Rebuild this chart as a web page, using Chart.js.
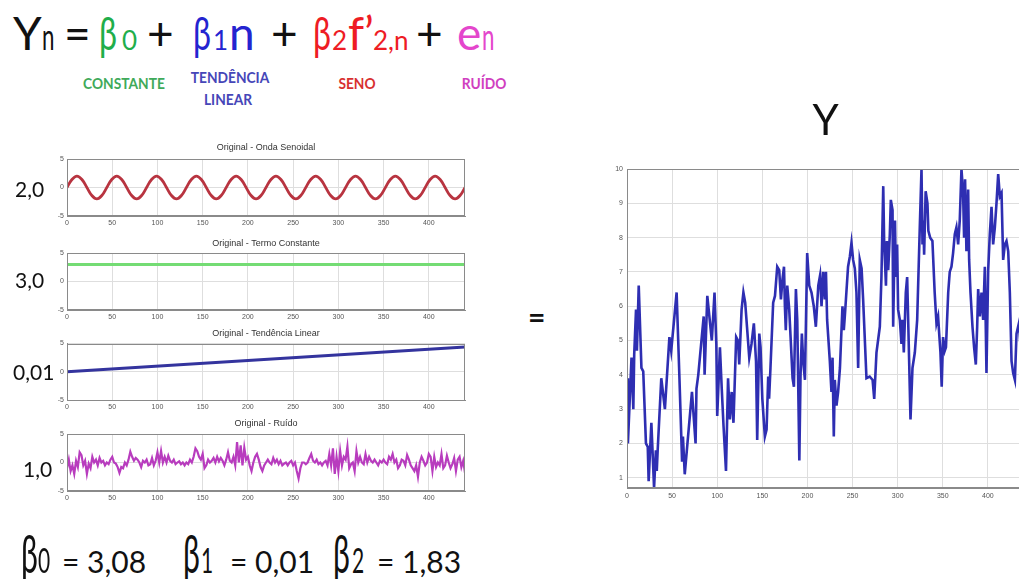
<!DOCTYPE html>
<html><head><meta charset="utf-8">
<script src="https://cdn.jsdelivr.net/npm/chart.js@4"></script>
<style>
html,body{margin:0;padding:0;width:1019px;height:579px;overflow:hidden;background:#fff;font-family:Lato,sans-serif;position:relative}
.t{position:absolute;white-space:nowrap;line-height:1}
canvas{position:absolute}
</style></head><body>
<canvas id="c1"></canvas><canvas id="c2"></canvas><canvas id="c3"></canvas><canvas id="c4"></canvas><canvas id="cy"></canvas>
<script>
// ---------- data ----------
const xTicks = [0,50,100,150,200,250,300,350,400];
const smallYTicks = [-5,0,5];
const bigYTicks = [1,2,3,4,5,6,7,8,9,10];

const sineVal = [0,1.41,2,1.41,0,-1.41,-2,-1.41, 0,1.41,2,1.41,0,-1.41,-2,-1.41,
 0,1.41,2,1.41,0,-1.41,-2,-1.41, 0,1.41,2,1.41,0,-1.41,-2,-1.41, 0,1.41,2,1.41,0,-1.41,-2,-1.41,
 0,1.41,2,1.41,0,-1.41,-2,-1.41, 0,1.41,2,1.41,0,-1.41,-2,-1.41, 0,1.41,2,1.41,0,-1.41,-2,-1.41,
 0,1.41,2,1.41,0,-1.41,-2,-1.41, 0,1.41,2,1.41,0,-1.41,-2,-1.41, 0];
const sineStep = 5.5;

const constN = [0,440];
const constVal = [3,3];

const trendN = [0,440];
const trendVal = [0,4.4];

const noiseVal = [
-1.0,0.5,-1.5,-0.5,-2.0,0.3,-0.8,1.8,1.3,-0.5,
0.3,-2.0,-0.2,-1.0,1.0,0.0,0.5,-0.5,0.8,0.0,
0.3,-0.5,0.0,-0.3,0.5,1.0,0.0,-0.2,-0.8,-1.8,
-0.8,-1.0,0.0,-0.5,0.5,1.9,1.0,0.3,0.8,0.5,
0.0,-0.8,0.3,0.0,0.5,-0.5,-0.3,0.8,-0.5,0.3,
1.8,0.0,2.0,0.0,1.0,0.0,1.2,0.3,0.0,0.5,
-0.3,0.0,0.2,-0.3,0.0,-0.5,0.0,-0.3,0.5,0.0,
1.0,2.5,2.0,1.0,0.5,1.5,-1.0,-0.5,0.5,0.0,
0.3,0.8,0.0,1.0,0.2,0.8,0.3,-0.5,0.5,1.8,
0.3,0.0,1.0,-0.5,3.6,0.0,3.0,-0.5,2.6,0.5,
1.0,-0.5,-1.5,0.0,1.0,1.5,0.5,-0.8,-1.5,-0.5,
0.0,0.5,0.0,-0.3,0.8,0.0,0.5,-0.3,0.3,-0.5,
-0.2,0.0,-0.5,0.0,0.3,-0.5,0.0,-1.5,-2.8,-1.0,
0.0,0.0,-0.3,0.0,0.8,1.5,0.3,0.0,0.5,-0.3,
0.0,-0.5,0.0,0.3,-0.5,1.5,-0.5,2.5,-2.0,1.0,
-1.5,2.0,-0.5,1.0,0.5,2.8,-1.0,-0.3,0.0,-1.5,
2.0,0.0,1.0,0.0,-0.3,1.5,0.0,1.0,0.3,0.0,
0.5,0.0,-0.5,0.3,0.0,0.5,0.0,-0.3,1.0,0.5,
1.5,0.0,0.5,-1.0,-0.5,0.5,0.3,-0.5,1.3,0.5,
-0.5,-1.0,-1.5,-0.5,-2.5,0.0,1.0,0.3,-0.5,0.0,
1.5,1.0,-1.5,1.0,-0.8,0.0,-0.5,1.5,-1.0,-0.5,
1.2,0.0,-1.0,-0.3,0.8,-1.5,0.5,1.0,-0.8,0.3,
-1.8];
const noiseStep = 2;

const yN = [
0,1,5,7,8,10,11,13,16,18,
21,23,24,27,30,32,33,34,38,42,
47,49,55,58,61,62,64,67,72,76,
77,79,85,86,89,94,97,99,100,103,
105,107,109.7,112,114,116,118,121,123,124.4,
127,129,131,133,135.5,138,140.6,143,144.3,146.6,
148,150,152.8,154.7,156.5,157.5,159,162,164,166.5,
168.7,170.6,172.4,174,175,176,177.6,179.8,181.3,183.5,
185,187.2,188.7,191,192.3,193.8,195.3,197.2,199.7,202,
204.5,207,209.3,212,214,215.6,217.4,219.3,220.5,221.8,
224.8,226.6,227.8,229.2,230.3,232.2,234,236,238.8,240.3,
241.4,245,247,248.8,250.6,252.5,254.3,256.2,258,260,
261.7,265.4,269,272.2,274,276.5,280.2,282,284,285,
287,288,289.5,291.3,292.4,294.3,295,297,298,299.4,
300.5,302.4,304.2,305.3,306.8,309,310.5,312.7,314.2,316.4,
319,321.6,324.5,326.4,327.5,328.5,329.3,331,333,334,
336,338.5,341,343,344.8,346,347.4,348.8,350.3,352.2,
353.5,356,357.7,359.6,361.4,363.3,365.1,367,368.8,370.7,
372.5,373.6,374.7,376.2,378.1,379.2,380.7,382.9,384.7,386.6,
388.1,389.2,391,392.9,394.7,396.6,398.4,400.3,402.1,404,
405.8,407.7,409.5,411.4,413.2,415.1,416.9,418.8,420.6,422.5,
424.3,426.2,428,429.9,431.7,434.3,436,438,440];
const yVal = [
3.9,2.0,4.5,3.0,4.6,5.9,4.7,6.6,4.2,4.1,
2.0,1.9,0.9,2.6,0.7,1.8,1.2,1.8,3.9,3.0,
5.1,4.7,6.4,4.0,1.5,2.2,1.1,2.0,3.5,2.0,
3.6,4.0,5.7,4.0,6.3,5.0,6.4,4.9,2.8,4.8,
3.6,2.5,1.2,3.9,2.7,3.5,2.6,5.1,5.0,4.3,
5.9,6.4,6.1,5.4,4.5,4.9,5.5,4.4,2.1,5.2,
4.8,3.3,2.2,2.4,3.95,3.3,4.2,6.1,6.3,7.15,
7.05,6.2,6.8,7.15,6.0,5.3,6.6,5.9,5.1,3.9,
3.65,6.5,5.6,1.5,3.95,5.2,4.4,3.85,7.55,6.6,
6.4,6.0,5.4,6.6,6.9,6.0,7.0,6.2,7.0,5.6,
4.4,3.5,4.5,2.2,3.85,3.1,3.5,4.2,6.0,5.3,
5.7,7.15,7.45,7.85,7.35,7.1,6.4,4.2,7.35,7.1,
6.2,3.9,3.95,3.85,3.3,4.65,5.4,6.85,9.5,7.9,
6.6,7.9,7.05,8.1,9.1,8.8,5.4,8.5,6.85,7.8,
5.9,5.6,4.9,5.6,4.65,6.4,6.85,4.4,2.7,4.2,
4.65,5.6,8.3,10.0,7.8,8.5,7.5,9.35,9.0,8.2,
8.0,7.9,6.4,5.5,5.7,5.2,4.65,3.65,5.1,4.7,
4.8,6.4,7.0,7.15,7.55,8.1,8.3,7.8,8.5,10.0,
9.3,8.0,9.7,7.6,9.4,7.35,6.4,5.4,4.8,4.3,
5.4,6.5,5.7,6.4,5.6,7.15,4.05,7.05,8.1,8.9,
7.8,8.3,9.0,9.85,9.2,9.3,7.35,7.8,7.9,7.6,
6.4,4.4,4.05,3.85,5.2,5.5,4.9,5.7,5.3];

// ---------- text helper ----------
const mctx = document.createElement('canvas').getContext('2d');
function put(txt, x, base, size, color, o) {
  o = o || {};
  const weight = o.w || 400, fam = o.f || 'Lato', sx = o.sx || 1;
  mctx.font = weight + ' ' + size + 'px ' + fam;
  const m = mctx.measureText('Hg');
  const asc = m.fontBoundingBoxAscent, desc = m.fontBoundingBoxDescent;
  const el = document.createElement('div');
  el.className = 't'; el.textContent = txt;
  el.style.left = x + 'px';
  el.style.top = (base - (size - (asc + desc)) / 2 - asc) + 'px';
  el.style.fontSize = size + 'px'; el.style.color = color;
  el.style.fontWeight = weight; el.style.fontFamily = fam;
  if (o.ls) el.style.letterSpacing = o.ls + 'px';
  if (o.center) {
    el.style.transformOrigin = '50% 50%';
    el.style.transform = 'translateX(-50%) scaleX(' + sx + ')';
  } else if (sx !== 1) {
    el.style.transformOrigin = '0 50%';
    el.style.transform = 'scaleX(' + sx + ')';
  }
  document.body.appendChild(el);
  return el;
}
const GREEN = '#1fae4b', BLUE = '#2424d0', RED = '#ee1c24', MAG = '#e446cc', INK = '#111';
// formula
put('Y', 13, 50, 46, INK);
put('n', 42, 50, 36, INK, {sx: 0.62});
put('=', 64, 50, 46, INK);
put('β', 99, 50, 46, GREEN, {sx: 0.7}); put('0', 122, 50, 26, GREEN);
put('+', 147, 50, 46, INK);
put('β', 193, 50, 46, BLUE, {sx: 0.7}); put('1', 213, 50, 26, BLUE); put('n', 229, 50, 46, BLUE);
put('+', 271, 50, 46, INK);
put('β', 313, 50, 46, RED, {sx: 0.7}); put('2', 332, 50, 26, RED); put('f’', 348, 50, 46, RED); put('2,n', 373, 50, 26, RED);
put('+', 416, 50, 46, INK);
put('e', 457, 50, 46, MAG); put('n', 482, 50, 36, MAG, {sx: 0.62});
// labels
put('CONSTANTE', 123.5, 89, 16, '#3faa5a', {w: 700, sx: 0.86, center: true});
put('TENDÊNCIA', 230, 83, 16, '#4646b8', {w: 700, sx: 0.86, center: true});
put('LINEAR', 228, 105, 16, '#4646b8', {w: 700, sx: 0.86, center: true});
put('SENO', 357, 89, 16, '#d83030', {w: 700, sx: 0.86, center: true});
put('RUÍDO', 483.5, 89, 16, '#d040c0', {w: 700, sx: 0.86, center: true});
// coefficients
put('2,0', 15, 197, 21, INK);
put('3,0', 15, 288, 21, INK);
put('0,01', 13, 380, 21, INK);
put('1,0', 23, 477, 21, INK);
put('=', 528, 328, 30, INK, {w: 700});
// bottom
put('β', 21, 573, 52, INK, {sx: 0.58}); put('0', 38, 573, 35, INK, {sx: 0.6}); put('= 3,08', 62, 573, 30, INK);
put('β', 183, 573, 52, INK, {sx: 0.58}); put('1', 201, 573, 35, INK, {sx: 0.6}); put('= 0,01', 230, 573, 30, INK);
put('β', 333, 573, 52, INK, {sx: 0.58}); put('2', 352, 573, 35, INK, {sx: 0.6}); put('= 1,83', 377, 573, 30, INK);

// ---------- charts ----------
const boxPlugin = {
  id: 'box',
  afterDatasetsDraw(chart) {
    const a = chart.chartArea, c = chart.ctx;
    c.save(); c.strokeStyle = '#8a8a8a'; c.lineWidth = 1;
    c.strokeRect(Math.round(a.left) + 0.5, Math.round(a.top) + 0.5, Math.round(a.width) - 1, Math.round(a.height) - 1);
    c.restore();
  }
};
const GRID = '#dedede';
const TICKFONT = {family: 'Liberation Sans', size: 7};

function setTicks(arr) { return s => { s.ticks = arr.map(v => ({value: v})); }; }

function smallChart(id, titleCenter, plotTop, plotBottom, titleText, pts, color, lw, tension) {
  const cv = document.getElementById(id);
  const left = 17, W = 452, top = titleCenter - 8;
  const H = plotBottom + 16 - top;
  cv.width = W; cv.height = H;
  cv.style.left = left + 'px'; cv.style.top = top + 'px';
  const ts = 9, lh = ts * 1.2;
  new Chart(cv, {
    type: 'line',
    data: {datasets: [{data: pts, borderColor: color, borderWidth: lw, pointRadius: 0, tension: tension, fill: false}]},
    options: {
      responsive: false, animation: false, devicePixelRatio: 1,
      layout: {padding: {left: 0, right: W - (465 - left), top: 0, bottom: 0}},
      plugins: {
        legend: {display: false}, tooltip: {enabled: false},
        title: {display: true, text: titleText, fullSize: false, color: '#333',
          font: {family: 'Liberation Sans', size: ts, weight: 'normal', lineHeight: 1.2},
          padding: {top: 8 - lh / 2, bottom: plotTop - titleCenter - lh / 2}}
      },
      scales: {
        x: {type: 'linear', min: 0, max: 440, afterBuildTicks: setTicks(xTicks),
          afterFit: s => { s.height = 16; },
          grid: {color: GRID, drawTicks: false}, border: {color: '#8a8a8a'},
          ticks: {font: TICKFONT, color: '#555', padding: 3, maxRotation: 0}},
        y: {min: -5, max: 5, afterBuildTicks: setTicks(smallYTicks),
          afterFit: s => { s.width = 67 - left; },
          grid: {color: GRID, drawTicks: false}, border: {color: '#8a8a8a'},
          ticks: {font: TICKFONT, color: '#555', padding: 3}}
      }
    },
    plugins: [boxPlugin]
  });
}

const sinePts = sineVal.map((v, i) => ({x: i * sineStep, y: v}));
const constPts = constN.map((n, i) => ({x: n, y: constVal[i]}));
const trendPts = trendN.map((n, i) => ({x: n, y: trendVal[i]}));
const noisePts = noiseVal.map((v, i) => ({x: i * noiseStep, y: v}));

smallChart('c1', 148, 159, 216, 'Original - Onda Senoidal', sinePts, '#b83440', 2.8, 0.4);
smallChart('c2', 244, 253, 310, 'Original - Termo Constante', constPts, '#74dc74', 3, 0);
smallChart('c3', 333.5, 343, 400, 'Original - Tendência Linear', trendPts, '#34349e', 3, 0);
smallChart('c4', 423.5, 433.5, 491, 'Original - Ruído', noisePts, '#b83cbe', 2.2, 0);

// big chart
(function () {
  const cv = document.getElementById('cy');
  const left = 585, top = 90, W = 1024 - left, plotTop = 169, plotBottom = 488;
  const H = plotBottom + 18 - top;
  cv.width = W; cv.height = H;
  cv.style.left = left + 'px'; cv.style.top = top + 'px';
  const ts = 42, lh = ts * 1.2, tc = 121;
  new Chart(cv, {
    type: 'line',
    data: {datasets: [{data: yN.map((n, i) => ({x: n, y: yVal[i]})), borderColor: '#2e2eb2', borderWidth: 2.6, pointRadius: 0, tension: 0, fill: false}]},
    options: {
      responsive: false, animation: false, devicePixelRatio: 1,
      layout: {padding: 0},
      plugins: {
        legend: {display: false}, tooltip: {enabled: false},
        title: {display: true, text: 'Y', fullSize: false, color: '#111',
          font: {family: 'Lato', size: ts, weight: 'normal', lineHeight: 1.2},
          padding: {top: tc - top - lh / 2, bottom: plotTop - tc - lh / 2}}
      },
      scales: {
        x: {type: 'linear', min: 0, max: 440, afterBuildTicks: setTicks(xTicks),
          afterFit: s => { s.height = 18; },
          grid: {color: GRID, drawTicks: false}, border: {color: '#8a8a8a'},
          ticks: {font: TICKFONT, color: '#555', padding: 4, maxRotation: 0}},
        y: {min: 0.7, max: 10, afterBuildTicks: setTicks(bigYTicks),
          afterFit: s => { s.width = 627 - left; },
          grid: {color: GRID, drawTicks: false}, border: {color: '#8a8a8a'},
          ticks: {font: TICKFONT, color: '#555', padding: 4}}
      }
    },
    plugins: [boxPlugin]
  });
})();
</script>
</body></html>
